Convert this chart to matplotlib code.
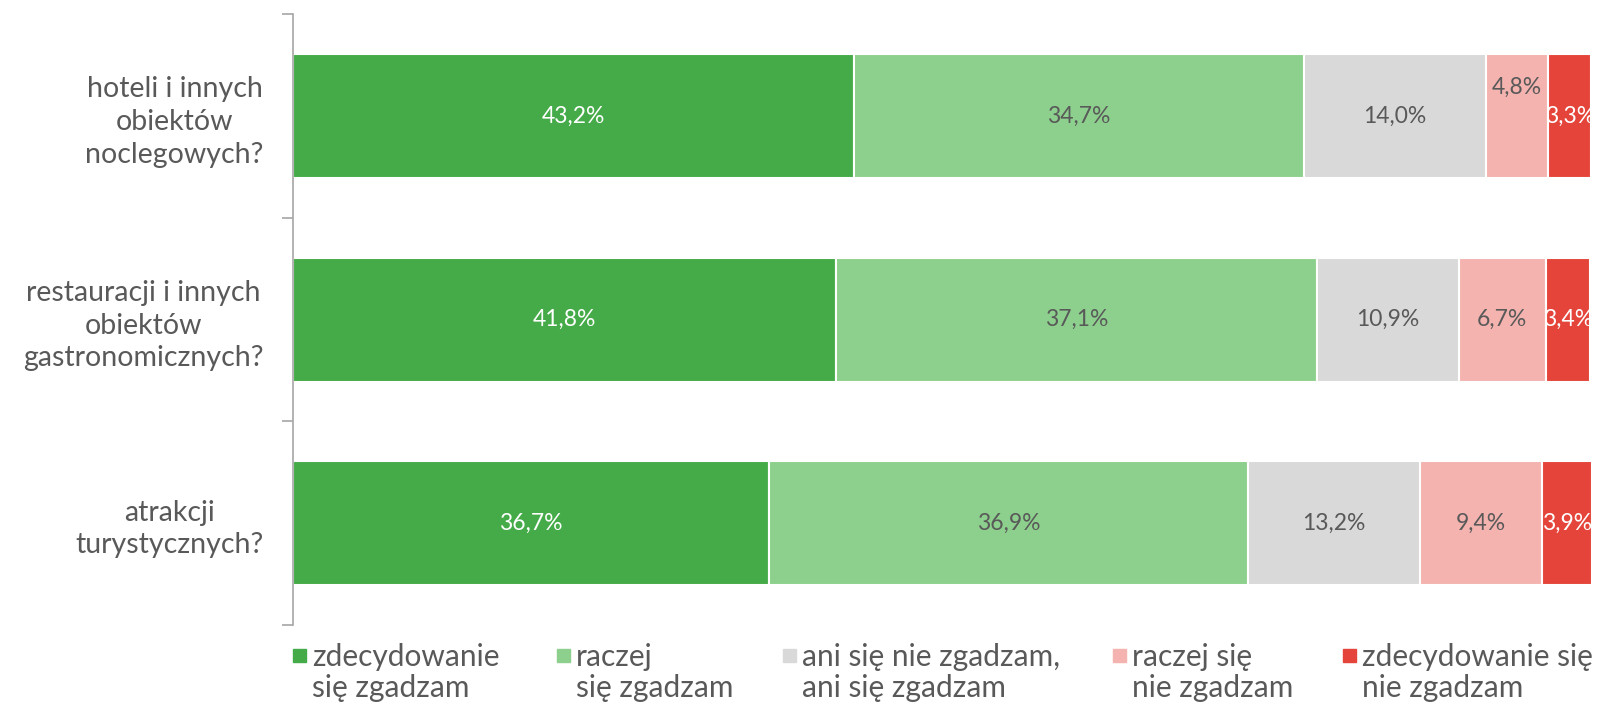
import matplotlib
matplotlib.use("Agg")
import matplotlib.pyplot as plt
from matplotlib.patches import Rectangle
import numpy as np

plt.rcParams['font.family'] = ['Lato', 'DejaVu Sans']

categories = ["hoteli i innych\nobiektów\nnoclegowych?",
              "restauracji i innych\nobiektów\ngastronomicznych?",
              "atrakcji\nturystycznych?"]
series = ["zdecydowanie\nsię zgadzam", "raczej\nsię zgadzam",
          "ani się nie zgadzam,\nani się zgadzam", "raczej się\nnie zgadzam",
          "zdecydowanie się\nnie zgadzam"]
values = np.array([
    [43.2, 34.7, 14.0, 4.8, 3.3],
    [41.8, 37.1, 10.9, 6.7, 3.4],
    [36.7, 36.9, 13.2, 9.4, 3.9],
])
colors = ["#44AB48", "#8DD08D", "#D9D9D9", "#F4B3AF", "#E4443A"]
label_colors = ["white", "#595959", "#595959", "#595959", "white"]
text_color = "#595959"

W, H = 1602, 703
fig = plt.figure(figsize=(W / 100, H / 100), dpi=100)
ax = fig.add_axes([293/W, 1 - 625/H, (1591 - 293)/W, (625 - 14.3)/H])

y = np.arange(len(categories))
left = np.zeros(len(categories))
for j in range(len(series)):
    ax.barh(y, values[:, j], left=left, height=0.61, color=colors[j],
            edgecolor="white", linewidth=1.5)
    for i in range(len(categories)):
        cx = left[i] + values[i, j] / 2
        cy = y[i]
        # Excel nudged this one up to keep it clear of its neighbour
        if (i, j) == (0, 3):
            cy -= 0.14
        t = ax.text(cx, cy, f"{values[i, j]:.1f}%".replace(".", ","),
                    ha="center", va="center", fontsize=16.5,
                    color=label_colors[j])
        t.set_clip_on(True)
    left += values[:, j]

ax.set_xlim(0, 100)
ax.set_ylim(2.5, -0.5)
ax.set_xticks([])
for s in ["top", "right", "bottom"]:
    ax.spines[s].set_visible(False)
ax.spines["left"].set_color("#A6A6A6")
ax.spines["left"].set_linewidth(1.2)

ax.set_yticks([-0.5, 0.5, 1.5, 2.5])
ax.set_yticklabels([])
ax.tick_params(axis="y", which="major", length=8, color="#A6A6A6", width=1.2)
ax.set_yticks(y, minor=True)
ax.set_yticklabels(categories, minor=True, fontsize=20.5, color=text_color,
                   multialignment="center", linespacing=1.32)
ax.tick_params(axis="y", which="minor", length=0, pad=21)

# legend, laid out by hand like the original
leg_x = [293, 557, 783, 1113, 1343]
for j, name in enumerate(series):
    x0 = leg_x[j] / W
    fig.add_artist(Rectangle((x0, 1 - 662/H), 13/W, 13/H,
                             transform=fig.transFigure, color=colors[j]))
    fig.text(x0 + 19/W, 1 - 697/H, name, fontsize=21.5, color=text_color,
             ha="left", va="baseline", linespacing=1.12)

fig.savefig("out.png", dpi=100)
